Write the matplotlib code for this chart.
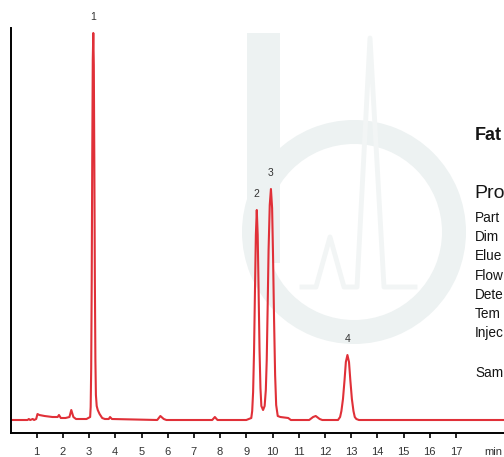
import matplotlib
matplotlib.use('Agg')
import matplotlib.pyplot as plt
from matplotlib.patches import Wedge, Rectangle

plt.rcParams['font.family'] = ['Liberation Sans', 'DejaVu Sans']

# chromatogram trace (time in min, signal in arbitrary units)
trace_time = [0.0, 0.65, 0.70, 0.75, 0.85, 0.90, 0.98, 1.03, 1.10, 1.30, 1.60, 1.80, 1.85, 1.92,
              2.10, 2.25, 2.32, 2.40, 2.50, 2.90, 3.04, 3.06, 3.08, 3.10, 3.12, 3.14, 3.16, 3.18,
              3.20, 3.22, 3.24, 3.26, 3.29, 3.33, 3.40, 3.50, 3.60, 3.75, 3.80, 3.87, 5.60, 5.72,
              5.85, 5.95, 7.70, 7.80, 7.90, 9.00, 9.19, 9.225, 9.26, 9.295, 9.33, 9.365, 9.40,
              9.435, 9.47, 9.505, 9.54, 9.575, 9.64, 9.70, 9.745, 9.78, 9.815, 9.85, 9.895, 9.94,
              9.985, 10.02, 10.06, 10.10, 10.14, 10.20, 10.30, 10.60, 10.70, 11.40, 11.55, 11.65,
              11.80, 11.90, 12.50, 12.58, 12.63, 12.69, 12.75, 12.80, 12.86, 12.92, 12.97, 13.03,
              13.09, 13.14, 13.20, 13.30, 18.90]
trace_signal = [0, 0, 1, 0, 1, 0, 1, 6, 5, 4, 3, 3, 5, 2,
                2, 3, 10, 3, 1, 1, 3, 13, 52, 140, 262, 360, 387, 355,
                255, 140, 60, 25, 14, 10, 6, 2, 1, 1, 3, 1, 0, 4,
                1, 0, 0, 3, 0, 0, 2, 9, 28, 68, 128, 185, 210,
                185, 128, 70, 32, 14, 10, 14, 30, 60, 113, 170, 215, 231,
                212, 165, 100, 45, 15, 4, 3, 2, 0, 0, 3, 4,
                1, 0, 0, 3, 9, 21, 40, 58, 65, 58, 40, 21,
                9, 3, 1, 0, 0]

peak_labels = ['1', '2', '3', '4']
peak_times = [3.16, 9.40, 9.94, 12.86]
peak_heights = [387, 210, 231, 65]

tick_minutes = list(range(1, 18))

# side panel text, as much of it as the picture shows
info_title = 'Fat'
info_heading = 'Pro'
info_lines = ['Part', 'Dim', 'Elue', 'Flow', 'Dete', 'Tem', 'Injec']
info_sample = 'Sam'

W, H = 504, 457
fig = plt.figure(figsize=(W / 100, H / 100), dpi=100)

# background layer in pixel coordinates for the watermark and side text
bg = fig.add_axes([0, 0, 1, 1], zorder=0)
bg.set_xlim(0, W)
bg.set_ylim(H, 0)
bg.axis('off')

wm = '#edf2f2'
bg.add_patch(Wedge((354, 232), 112, 0, 360, width=24, color=wm, lw=0))
bg.add_patch(Rectangle((247, 33), 33, 230, color=wm, lw=0))
bg.plot([302, 316, 330, 344, 357, 370, 384, 398, 415],
        [287, 287, 237, 287, 287, 38, 287, 287, 287],
        color='#f2f5f5', lw=3.5, solid_joinstyle='round')

txt = '#151515'
bg.text(475, 135, info_title, fontsize=13, fontweight='bold', va='center', ha='left', color=txt)
bg.text(474, 194, info_heading, fontsize=14, va='center', ha='left', color=txt)
for i, s in enumerate(info_lines):
    bg.text(475, 218 + i * 19.2, s, fontsize=9.8, va='center', ha='left', color=txt)
bg.text(475, 373, info_sample, fontsize=9.8, va='center', ha='left', color=txt)

# main chromatogram axes
ax = fig.add_axes([10.5 / W, (H - 433) / H, (W - 10.5) / W, 405 / H], zorder=1)
ax.patch.set_alpha(0)
ax.plot(trace_time, trace_signal, color='#e03038', lw=1.5, solid_joinstyle='round')
ax.set_xlim(0, (W - 10.5) / 26.2)
ax.set_ylim(-13, 392)

for lab, t, h in zip(peak_labels, peak_times, peak_heights):
    ax.annotate(lab, (t, h), xytext=(0, 11.5), textcoords='offset points', ha='center',
                va='center', fontsize=7.5, color='#333333', annotation_clip=False)

ax.spines['top'].set_visible(False)
ax.spines['right'].set_visible(False)
ax.spines['left'].set_linewidth(1.4)
ax.spines['bottom'].set_linewidth(1.4)
ax.set_yticks([])
ax.set_xticks(tick_minutes)
ax.set_xticklabels([str(m) for m in tick_minutes])
ax.tick_params(axis='x', direction='out', length=3.3, width=1.2, pad=7, labelsize=8,
               labelcolor='#333333')
ax.text(18.42, -0.047, 'min', transform=ax.get_xaxis_transform(), ha='center', va='center',
        fontsize=8, color='#333333')

fig.savefig('out.png', dpi=100)
